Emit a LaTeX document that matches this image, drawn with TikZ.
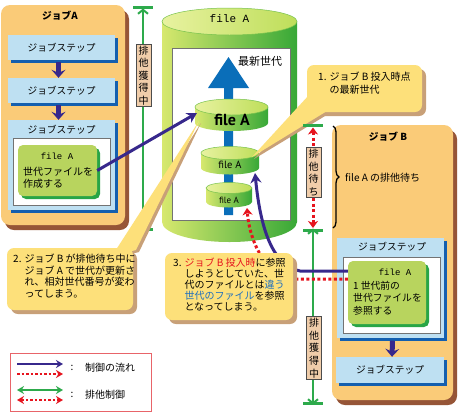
\documentclass[tikz,border=0pt]{standalone}
\usepackage{fontspec}
\setmainfont{Noto Sans CJK JP}
\newfontfamily\monof{Liberation Mono}
\newfontfamily\cylf{PT Sans}
\usetikzlibrary{arrows.meta,shadows,decorations.pathreplacing}
\definecolor{orangeA}{RGB}{250,203,120}
\definecolor{brownS}{RGB}{150,85,55}
\definecolor{stepBlue}{RGB}{190,224,242}
\definecolor{stepShadow}{RGB}{20,95,175}
\definecolor{greenBox}{RGB}{184,212,94}
\definecolor{greenShadow}{RGB}{40,165,70}
\definecolor{callY}{RGB}{253,224,122}
\definecolor{callS}{RGB}{200,160,120}
\definecolor{gArrow}{RGB}{45,170,75}
\definecolor{purp}{RGB}{55,40,140}
\definecolor{redD}{RGB}{230,20,30}
\definecolor{blueA}{RGB}{10,110,185}
\definecolor{blueT}{RGB}{30,110,190}
\definecolor{tanL}{RGB}{240,205,170}
\definecolor{cylL}{RGB}{215,232,110}
\definecolor{cylR}{RGB}{55,168,55}
\definecolor{topL}{RGB}{232,242,160}
\definecolor{topR}{RGB}{190,222,90}
\definecolor{legR}{RGB}{232,100,105}
\newcommand\drawcyl[6]{%
  \path[left color=cylL, right color=cylR] (#1-#4,#2) -- (#1-#4,#3)
     arc[start angle=180,end angle=360,x radius=#4pt,y radius=#6pt] -- (#1+#4,#2) -- cycle;
  \path[left color=topL, right color=topR, draw=cylR!60!cylL, line width=0.5pt] (#1,#2) ellipse[x radius=#4pt, y radius=#5pt];
}
\begin{document}
\begin{tikzpicture}[x=1pt,y=-1pt,
  jp/.style={font=\fontsize{9.7}{12}\selectfont},
  jobbox/.style={fill=orangeA, rounded corners=9pt, inner sep=0pt,
     general shadow={fill=brownS, shadow xshift=4pt, shadow yshift=-5pt, rounded corners=9pt}},
  stepbox/.style={fill=stepBlue, inner sep=0pt, font=\fontsize{9.7}{12}\selectfont,
     general shadow={fill=stepShadow, shadow xshift=2.5pt, shadow yshift=-2.5pt}},
  whitebox/.style={fill=white, draw=black!55, line width=0.8pt, inner sep=0pt},
  gbox/.style={fill=greenBox, rounded corners=5pt, inner sep=0pt,
     general shadow={fill=greenShadow, shadow xshift=3pt, shadow yshift=-3pt, rounded corners=5pt}},
  callout/.style={fill=callY, rounded corners=7pt, inner sep=0pt,
     general shadow={fill=callS, shadow xshift=4pt, shadow yshift=-4pt, rounded corners=7pt}},
  vlabel/.style={fill=tanL, draw=black!70, line width=0.8pt, align=center,
     font=\fontsize{10}{12.6}\selectfont, inner xsep=1.5pt, inner ysep=1.5pt, minimum width=15pt},
  flow/.style={draw=purp, line width=3pt, -{Stealth[length=10pt,width=11pt]}},
  stepflow/.style={draw=purp, line width=5pt, -{Stealth[length=8pt,width=14pt,inset=3pt]}},
  excl/.style={draw=gArrow, line width=2pt, {Straight Barb[length=4pt,width=10pt]}-{Straight Barb[length=4pt,width=10pt]}},
  gbar/.style={draw=gArrow, line width=3pt},
  reddot/.style={draw=redD, line width=3pt, dash pattern=on 3pt off 2.5pt},
  rtip/.style={-{Stealth[length=7pt,width=10pt,inset=2pt]}},
  rtips/.style={{Stealth[length=7pt,width=10pt,inset=2pt]}-{Stealth[length=7pt,width=10pt,inset=2pt]}},
  ctext/.style={align=left, inner sep=0pt, anchor=north west, font=\fontsize{10}{11.5}\selectfont},
]
\fill[white] (0,0) rectangle (460,413);
\useasboundingbox (0,0) rectangle (460,413);

% ---------------- Job A ----------------
\node[jobbox, minimum width=124pt, minimum height=220pt] (jobA) at (63,115) {};
\node[font=\bfseries\fontsize{9.7}{12}\selectfont] (jobAt) at (60,16) {ジョブA};
\node[stepbox, minimum width=107pt, minimum height=25pt] (s1) at (61.5,47.5) {ジョブステップ};
\node[stepbox, minimum width=107pt, minimum height=25pt] (s2) at (61.5,90.5) {ジョブステップ};
\node[stepbox, minimum width=107pt, minimum height=90pt] (s3) at (61.5,165) {};
\node[jp] (s3t) at (61.5,130) {ジョブステップ};
\node[whitebox, minimum width=97pt, minimum height=67pt] (wA) at (61.5,171.5) {};
\node[gbox, minimum width=79pt, minimum height=51pt] (gA) at (57.5,170.5) {};
\node[font=\monof\fontsize{9}{11}\selectfont] (gAf) at (57,156) {file A};
\node[ctext, font=\fontsize{10}{12}\selectfont] (gAt) at (23,167) {世代ファイルを\\作成する};
\draw[stepflow] ([xshift=-3pt,yshift=-2pt]s1.south) -- ([xshift=-3pt]s2.north);
\draw[stepflow] ([xshift=-3pt,yshift=-2pt]s2.south) -- ([xshift=-3pt]s3.north);

% green exclusive arrow A
\coordinate (gA1) at (143,7);
\coordinate (gA2) at (143,229);
\draw[gbar] ([xshift=-10pt]gA1) -- ([xshift=10pt]gA1);
\draw[gbar] ([xshift=-10pt]gA2) -- ([xshift=10pt]gA2);
\draw[excl] ([yshift=-1.5pt]gA1) -- ([yshift=1.5pt]gA2);
\node[vlabel] (vA) at (143.5,75.5) {排\\他\\獲\\得\\中};

% ---------------- big cylinder ----------------
\drawcyl{229.5}{21.5}{222}{67.5}{13.5}{20}
\node[font=\monof\fontsize{11}{13}\selectfont] (cylT) at (229.5,19) {file A};
\node[whitebox, minimum width=118pt, minimum height=172pt] (inner) at (231,134) {};
\node[font=\fontsize{11}{13}\selectfont] (newest) at (260,61) {最新世代};
\fill[blueA] (228.5,57) -- (249,88) -- (233,88) -- (233,215) -- (224,215) -- (224,88) -- (208,88) -- cycle;
\drawcyl{231.5}{107}{123}{36.5}{8}{8}
\node[font=\cylf\bfseries\fontsize{16}{18}\selectfont] (c1) at (232,120) {file A};
\drawcyl{230}{153}{168}{29}{6.5}{6.5}
\node[font=\cylf\fontsize{10.5}{12}\selectfont] (c2) at (230,165) {file A};
\drawcyl{229}{188}{202}{23}{5.5}{5.5}
\node[font=\cylf\fontsize{9}{11}\selectfont] (c3) at (229,200) {file A};
\coordinate (bcL) at (197,113);
\coordinate (mcB) at (255,173);
\coordinate (scB) at (247,208);

% ---------------- callout 1 ----------------
\fill[callS] (312,97) -- (330,113) -- (254,159) -- cycle;
\node[callout, minimum width=115pt, minimum height=47pt] (co1) at (364.5,88.5) {};
\fill[callY] (309,95) -- (327,111) -- (252,157) -- cycle;
\node[ctext, font=\fontsize{10}{13}\selectfont] (co1t) at (318,72) {1. ジョブ B 投入時点\\\phantom{1. }の最新世代};

% ---------------- callout 2 ----------------
\fill[callS] (115,258) -- (139,252) -- (201,123) -- cycle;
\node[callout, minimum width=126pt, minimum height=62pt] (co2) at (70,279) {};
\fill[callY] (112,256) -- (136,250) -- (199,121) -- cycle;
\node[ctext] (co2t) at (13,254) {2. ジョブ B が排他待ち中に\\\phantom{2. }ジョブ A で世代が更新さ\\\phantom{2. }れ、相対世代番号が変わ\\\phantom{2. }ってしまう。};

\draw[flow] (gA.east) -- (bcL);

% ---------------- Job B ----------------
\node[jobbox, minimum width=121pt, minimum height=275pt] (jobB) at (392.5,262.5) {};
\node[font=\bfseries\fontsize{9.7}{12}\selectfont] (jobBt) at (388,137) {ジョブ B};
\coordinate (brT) at (333,126);
\coordinate (brB) at (333,228);
\draw[decorate, decoration={brace, amplitude=6pt}, line width=1.3pt] (brT) -- (brB);
\node[anchor=west, inner sep=0pt, font=\fontsize{10}{12}\selectfont] (waitT) at (345,178) {file A の排他待ち};

\coordinate (rTop) at (313,125.5);
\coordinate (rBot) at (313,230);
\coordinate (gBot) at (313,403);
\draw[gbar] ([xshift=-10pt]rTop) -- ([xshift=10pt]rTop);
\draw[gbar] ([xshift=-10pt]rBot) -- ([xshift=10pt]rBot);
\draw[gbar] ([xshift=-10pt]gBot) -- ([xshift=10pt]gBot);
\draw[reddot, rtips] ([yshift=-2pt]rTop) -- ([yshift=2pt]rBot);
\draw[excl] ([yshift=1.5pt]rBot) -- ([yshift=-1.5pt]gBot);
\node[vlabel] (vW) at (313.5,172.5) {排\\他\\待\\ち};
\node[vlabel] (vB) at (314,348) {排\\他\\獲\\得\\中};

\node[stepbox, minimum width=107pt, minimum height=100pt] (sB1) at (390.5,288) {};
\node[jp] (sB1t) at (392,247) {ジョブステップ};
\node[whitebox, minimum width=97pt, minimum height=76pt] (wB) at (391.5,295) {};
\node[gbox, minimum width=78pt, minimum height=63pt] (gB) at (387,292.5) {};
\node[font=\monof\fontsize{9}{11}\selectfont] (gBf) at (395,272) {file A};
\node[ctext, font=\fontsize{9.8}{12.5}\selectfont] (gBt) at (353,281) {1 世代前の\\世代ファイルを\\参照する};
\node[stepbox, minimum width=108pt, minimum height=26pt] (sB2) at (390,370) {ジョブステップ};
\draw[stepflow] ([xshift=2pt,yshift=-2.5pt]sB1.south) -- ([xshift=2pt]sB2.north);

% curves
\draw[reddot, rtip] ([yshift=13.5pt]gB.west) -- (292,279) .. controls (268,276) and (250,245) .. (scB);
\draw[flow] ([yshift=21.5pt]gB.west) -- (300,271) .. controls (275,266) and (261,235) .. (mcB);

% ---------------- callout 3 ----------------
\node[callout, minimum width=128pt, minimum height=67pt] (co3) at (229,286.5) {};
\node[ctext, font=\fontsize{10}{11}\selectfont] (co3t) at (173,258) {3. \textcolor{redD}{ジョブ B 投入時}に参照\\\phantom{3. }しようとしていた、世\\\phantom{3. }代のファイルとは\textcolor{blueT}{違う}\\\phantom{3. }\textcolor{blueT}{世代のファイル}を参照\\\phantom{3. }となってしまう。};

% ---------------- legend ----------------
\node[draw=legR, line width=1pt, minimum width=141pt, minimum height=58pt, inner sep=0pt] (leg) at (80.5,382) {};
\coordinate (l1a) at (17,364); \coordinate (l1b) at (63,364);
\coordinate (l2a) at (17,374); \coordinate (l2b) at (63,374);
\coordinate (l3a) at (17,390); \coordinate (l3b) at (63,390);
\coordinate (l4a) at (17,400); \coordinate (l4b) at (63,400);
\draw[draw=purp, line width=2pt, -{Stealth[length=7pt,width=8pt]}] (l1a) -- (l1b);
\draw[draw=redD, line width=2pt, dash pattern=on 2.5pt off 2pt, -{Stealth[length=7pt,width=8pt]}] (l2a) -- (l2b);
\draw[draw=gArrow, line width=2pt, {Stealth[length=7pt,width=8pt]}-{Stealth[length=7pt,width=8pt]}] (l3a) -- (l3b);
\draw[draw=redD, line width=2pt, dash pattern=on 2.5pt off 2pt, {Stealth[length=7pt,width=8pt]}-{Stealth[length=7pt,width=8pt]}] (l4a) -- (l4b);
\node[font=\fontsize{10}{12}\selectfont] (lc1) at (72,368) {:};
\node[anchor=west, inner sep=0pt, font=\fontsize{10}{12}\selectfont] (lt1) at (85,368) {制御の流れ};
\node[font=\fontsize{10}{12}\selectfont] (lc2) at (72,395) {:};
\node[anchor=west, inner sep=0pt, font=\fontsize{10}{12}\selectfont] (lt2) at (85,395) {排他制御};
\end{tikzpicture}
\end{document}
